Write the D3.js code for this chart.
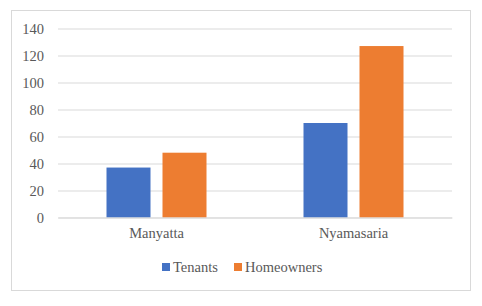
<!DOCTYPE html>
<html><head><meta charset="utf-8">
<script src="https://cdn.jsdelivr.net/npm/d3@7"></script>
<style>body{margin:0;background:#fff;}svg{display:block;}</style>
</head><body>
<script>
const categories = ["Manyatta", "Nyamasaria"];
const seriesNames = ["Tenants", "Homeowners"];
const tenants = [37, 70];
const homeowners = [48, 127];
const yTicks = [0, 20, 40, 60, 80, 100, 120, 140];
const colors = ["#4472C4", "#ED7D31"];

const W = 482, H = 306;
const FONT = "Liberation Serif";
const svg = d3.select("body").append("svg").attr("width", W).attr("height", H)
  .attr("font-family", FONT);
const fs = 14.5;

svg.append("rect").attr("x", 11.5).attr("y", 10.5).attr("width", 459).attr("height", 280)
  .attr("fill", "#fff").attr("stroke", "#d9d9d9").attr("stroke-width", 1);

const x0 = d3.scaleBand().domain(categories).range([58, 452]).paddingInner(0).paddingOuter(0);
const y = d3.scaleLinear().domain([0, 140]).range([217.5, 28.5]);
const x1 = d3.scaleBand().domain(seriesNames).range([0, 100]).paddingInner(12/56).paddingOuter(0);

const yAxis = d3.axisLeft(y).tickValues(yTicks).tickSize(-(452 - 58)).tickPadding(14);
const gy = svg.append("g").attr("transform", "translate(58,0)").call(yAxis);
gy.attr("font-family", FONT).attr("font-size", fs);
gy.select(".domain").remove();
gy.selectAll(".tick line").attr("stroke", "#d9d9d9").attr("stroke-width", 1);
gy.selectAll(".tick text").attr("fill", "#595959").attr("font-family", FONT);

const data = categories.map((c, i) => ({cat: c, vals: [tenants[i], homeowners[i]]}));
const groups = svg.append("g").selectAll("g").data(data).join("g")
  .attr("transform", d => `translate(${x0(d.cat) + x0.bandwidth()/2 - 50},0)`);
groups.selectAll("rect").data(d => d.vals.map((v, j) => ({s: seriesNames[j], v, j})))
  .join("rect")
  .attr("x", d => x1(d.s)).attr("width", x1.bandwidth())
  .attr("y", d => y(d.v)).attr("height", d => y(0) - y(d.v))
  .attr("fill", d => colors[d.j]);

const xAxis = d3.axisBottom(x0).tickSize(0).tickPadding(10);
const gx = svg.append("g").attr("transform", "translate(0,217.5)").call(xAxis);
gx.attr("font-family", FONT).attr("font-size", fs);
gx.select(".domain").attr("stroke", "#d9d9d9");
gx.selectAll(".tick text").attr("fill", "#595959").attr("font-family", FONT);

const legendX = [162, 234];
const lg = svg.append("g").selectAll("g").data(seriesNames).join("g")
  .attr("transform", (d, i) => `translate(${legendX[i]},263)`);
lg.append("rect").attr("width", 8).attr("height", 8).attr("fill", (d, i) => colors[i]);
lg.append("text").attr("x", 11).attr("y", 8.5).text(d => d)
  .attr("fill", "#595959").attr("font-family", FONT).attr("font-size", fs);
</script>
</body></html>
